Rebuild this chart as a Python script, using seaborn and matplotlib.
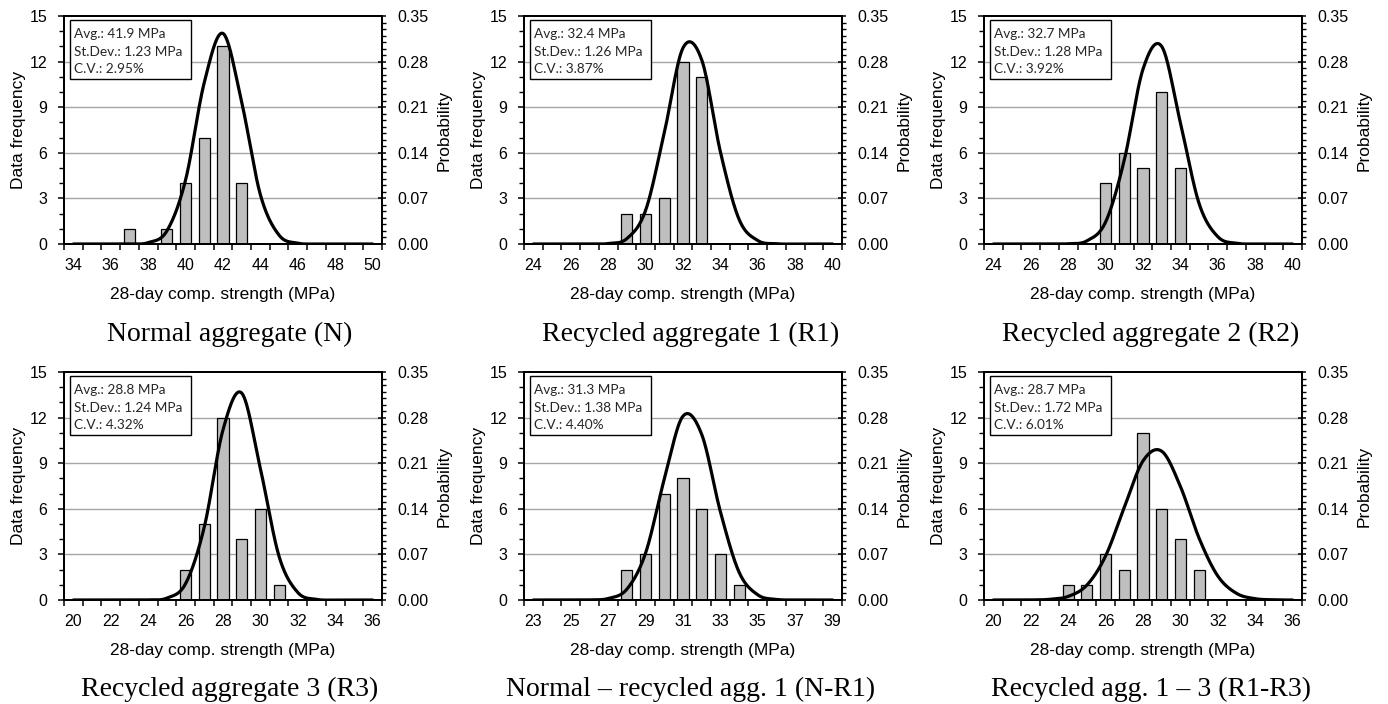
import numpy as np
import pandas as pd
import matplotlib
matplotlib.use("Agg")
import matplotlib.pyplot as plt
from matplotlib.patches import Rectangle
from matplotlib.ticker import MultipleLocator, FixedLocator
import seaborn as sns

sns.set_theme(style="white")
plt.rcParams['font.family'] = ['Liberation Sans', 'DejaVu Sans']

# ---------------- data ----------------
titles = ["Normal aggregate (N)", "Recycled aggregate 1 (R1)", "Recycled aggregate 2 (R2)",
          "Recycled aggregate 3 (R3)", "Normal \u2013 recycled agg. 1 (N-R1)", "Recycled agg. 1 \u2013 3 (R1-R3)"]
x_start = [34, 24, 24, 20, 23, 20]          # first strength category (MPa), 17 categories each
avg_mpa = ["41.9", "32.4", "32.7", "28.8", "31.3", "28.7"]
sd_mpa = ["1.23", "1.26", "1.28", "1.24", "1.38", "1.72"]
cv_pct = ["2.95", "3.87", "3.92", "4.32", "4.40", "6.01"]

freq_N   = [0, 0, 0, 1, 0, 1, 4, 7, 13, 4, 0, 0, 0, 0, 0, 0, 0]
freq_R1  = [0, 0, 0, 0, 0, 2, 2, 3, 12, 11, 0, 0, 0, 0, 0, 0, 0]
freq_R2  = [0, 0, 0, 0, 0, 0, 4, 6, 5, 10, 5, 0, 0, 0, 0, 0, 0]
freq_R3  = [0, 0, 0, 0, 0, 0, 2, 5, 12, 4, 6, 1, 0, 0, 0, 0, 0]
freq_NR1 = [0, 0, 0, 0, 0, 2, 3, 7, 8, 6, 3, 1, 0, 0, 0, 0, 0]
freq_R13 = [0, 0, 0, 0, 1, 1, 3, 2, 11, 6, 4, 2, 0, 0, 0, 0, 0]

prob_N   = [0, 0, 0, 0.0001, 0.0021, 0.0201, 0.0984, 0.2481, 0.3232, 0.2174, 0.0755, 0.0135, 0.0013, 0.0001, 0, 0, 0]
prob_R1  = [0, 0, 0, 0, 0.0007, 0.0083, 0.0516, 0.1708, 0.3010, 0.2827, 0.1414, 0.0377, 0.0053, 0.0004, 0, 0, 0]
prob_R2  = [0, 0, 0, 0, 0.0004, 0.0048, 0.0337, 0.1290, 0.2684, 0.3033, 0.1861, 0.0620, 0.0112, 0.0011, 0.0001, 0, 0]
prob_R3  = [0, 0, 0, 0, 0.0002, 0.0029, 0.0252, 0.1121, 0.2613, 0.3176, 0.2014, 0.0667, 0.0115, 0.0010, 0, 0, 0]
prob_NR1 = [0, 0, 0, 0.0002, 0.0023, 0.0166, 0.0721, 0.1855, 0.2823, 0.2542, 0.1354, 0.0426, 0.0079, 0.0009, 0.0001, 0, 0]
prob_R13 = [0, 0, 0.0001, 0.0010, 0.0055, 0.0229, 0.0676, 0.1423, 0.2135, 0.2284, 0.1743, 0.0948, 0.0368, 0.0102, 0.0020, 0.0003, 0]

freqs = [freq_N, freq_R1, freq_R2, freq_R3, freq_NR1, freq_R13]
probs = [prob_N, prob_R1, prob_R2, prob_R3, prob_NR1, prob_R13]

freq_ticks = [0, 3, 6, 9, 12, 15]
prob_ticks = [0.00, 0.07, 0.14, 0.21, 0.28, 0.35]


def smooth(y, n=30):
    """Excel-like smoothed line (Catmull-Rom) through points at category positions."""
    y = np.asarray(y, float)
    p = np.concatenate([[y[0]], y, [y[-1]]])
    xs, ys = [], []
    for i in range(len(y) - 1):
        P0, P1, P2, P3 = p[i], p[i + 1], p[i + 2], p[i + 3]
        t = np.linspace(0, 1, n, endpoint=False)
        v = 0.5 * (2 * P1 + (-P0 + P2) * t + (2 * P0 - 5 * P1 + 4 * P2 - P3) * t ** 2
                   + (-P0 + 3 * P1 - 3 * P2 + P3) * t ** 3)
        xs.append(i + t)
        ys.append(v)
    xs.append([len(y) - 1])
    ys.append([y[-1]])
    return np.concatenate(xs), np.concatenate(ys)


W, H = 1388, 704
fig = plt.figure(figsize=(W / 100, H / 100), dpi=100)

col_left = [64, 524, 984]
row_top = [16, 372]
ax_w, ax_h = 318, 228
sub_x = [230, 691, 1151]
sub_y = [334, 689]
TICK_FS = 11.5
LAB_FS = 12.5

for k in range(6):
    r, c = divmod(k, 3)
    left = col_left[c] / W
    bottom = 1 - (row_top[r] + ax_h) / H
    ax = fig.add_axes([left, bottom, ax_w / W, ax_h / H])

    cats = [str(x_start[k] + i) for i in range(len(freqs[k]))]
    df = pd.DataFrame({"strength": cats, "count": freqs[k]})
    sns.barplot(data=df, x="strength", y="count", order=cats, ax=ax, color="#bfbfbf",
                saturation=1, width=0.6, edgecolor="black", linewidth=0.9, zorder=2)

    ax.set_xlim(-0.5, len(cats) - 0.5)
    ax.set_ylim(0, 15)
    ax.set_axisbelow(True)
    for g in [3, 6, 9, 12]:
        ax.axhline(g, color="#a6a6a6", lw=1.0, zorder=0)

    # x axis: labels every 2nd category, tick marks between categories
    ax.xaxis.set_major_locator(FixedLocator(list(range(0, len(cats), 2))))
    ax.set_xticklabels(cats[::2])
    ax.xaxis.set_minor_locator(FixedLocator([i - 0.5 for i in range(len(cats) + 1)]))
    ax.tick_params(axis="x", which="major", length=0, labelsize=TICK_FS, pad=10, colors="black")
    ax.tick_params(axis="x", which="minor", length=4, width=1.1, direction="out", bottom=True, color="black")

    ax.set_yticks(freq_ticks)
    ax.yaxis.set_minor_locator(MultipleLocator(1))
    ax.tick_params(axis="y", which="major", length=4, width=1.1, direction="out", left=True,
                   labelsize=TICK_FS, pad=8, colors="black")
    ax.tick_params(axis="y", which="minor", length=3.5, width=1.0, direction="out", left=True, color="black")

    ax.set_xlabel("28-day comp. strength (MPa)", fontsize=LAB_FS, labelpad=10, color="black")
    ax.set_ylabel("Data frequency", fontsize=LAB_FS, color="black")
    ax.yaxis.set_label_coords(-38 / ax_w, 0.5)

    for s in ax.spines.values():
        s.set_visible(True)
        s.set_color("black")
        s.set_linewidth(1.4)

    # secondary axis with normal distribution curve
    ax2 = ax.twinx()
    cx, cy = smooth(probs[k])
    sns.lineplot(x=cx, y=cy, ax=ax2, color="black", linewidth=2.3, sort=False, estimator=None)
    ax2.set_ylim(0, 0.35)
    ax2.set_yticks(prob_ticks)
    ax2.set_yticklabels([f"{v:.2f}" for v in prob_ticks])
    ax2.yaxis.set_minor_locator(MultipleLocator(0.01))
    ax2.tick_params(axis="y", which="major", length=6, width=1.1, direction="inout", right=True,
                    labelsize=TICK_FS, pad=8, colors="black")
    ax2.tick_params(axis="y", which="minor", length=3, width=1.0, direction="out", right=True, color="black")
    ax2.set_ylabel("Probability", fontsize=LAB_FS, color="black")
    ax2.yaxis.set_label_coords(1 + 55 / ax_w, 0.5)
    for s in ax2.spines.values():
        s.set_visible(True)
        s.set_color("black")
        s.set_linewidth(1.4)

    # statistics box
    box = Rectangle((6 / ax_w, 1 - 63 / ax_h), 121 / ax_w, 59 / ax_h, transform=ax2.transAxes,
                    facecolor="white", edgecolor="black", linewidth=1.0, zorder=5)
    ax2.add_patch(box)
    lines = [f"Avg.: {avg_mpa[k]} MPa", f"St.Dev.: {sd_mpa[k]} MPa", f"C.V.: {cv_pct[k]}%"]
    for j, txt in enumerate(lines):
        ax2.text(10 / ax_w, 1 - (18 + 17.5 * j) / ax_h, txt, transform=ax2.transAxes,
                 fontsize=9.8, family=["Lato", "DejaVu Sans"], va="center", ha="left", zorder=6)

    fig.text(sub_x[c] / W, 1 - sub_y[r] / H, titles[k], ha="center", va="center",
             fontsize=20, family=["Liberation Serif", "DejaVu Serif"], color="black")

fig.savefig("out.png", dpi=100, facecolor="white")
